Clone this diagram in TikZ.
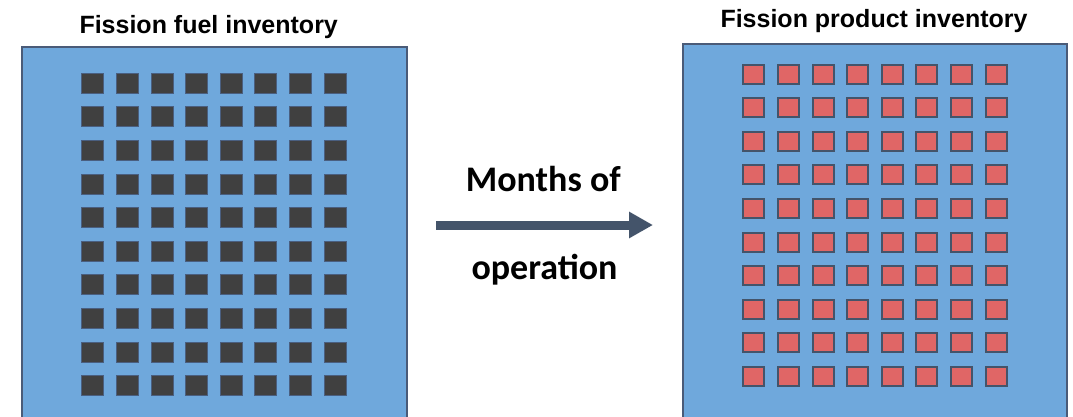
\documentclass[tikz,border=0pt]{standalone}
\usepackage{fontspec}
\setmainfont{Liberation Sans}
\newfontfamily\calib{Carlito}
\usetikzlibrary{arrows.meta}
\definecolor{boxfill}{HTML}{6FA8DC}
\definecolor{boxline}{HTML}{4A5B78}
\definecolor{fuelc}{HTML}{404040}
\definecolor{fuelline}{HTML}{4A5F80}
\definecolor{prodc}{HTML}{E06666}
\definecolor{slate}{HTML}{44546A}
\begin{document}
\begin{tikzpicture}[x=1pt,y=-1pt,
  panel/.style={draw=boxline, fill=boxfill, line width=2pt, anchor=north west, inner sep=0pt, outer sep=0pt},
  fuelsq/.style={draw=fuelline, fill=fuelc, line width=1pt, minimum width=22pt, minimum height=20pt, inner sep=0pt, outer sep=0pt},
  prodsq/.style={draw=slate, fill=prodc, line width=2pt, minimum width=21pt, minimum height=19pt, inner sep=0pt, outer sep=0pt},
  titletext/.style={font=\bfseries\fontsize{25}{30}\selectfont, anchor=base, inner sep=0pt},
  midtext/.style={font=\calib\bfseries\fontsize{36}{42}\selectfont, anchor=base, inner sep=0pt},
  flow/.style={draw=slate, line width=9pt, -{Triangle[length=24pt,width=25pt]}}
]
\useasboundingbox (0,0) rectangle (1073,416);
\node[panel, minimum width=385pt, minimum height=390pt] (fuelbox) at (22,47) {};
\node[panel, minimum width=384pt, minimum height=390pt] (prodbox) at (683,44) {};
\foreach \i in {0,...,7}{
  \foreach \j in {0,...,9}{
    \node[fuelsq] (f-\i-\j) at ({92.9+\i*34.6},{83.3+\j*33.6}) {};
    \node[prodsq] (p-\i-\j) at ({753.9+\i*34.6},{74+\j*33.6}) {};
  }
}
\node[titletext] (t1) at (208.7,33) {Fission fuel inventory};
\node[titletext] (t2) at (874,27) {Fission product inventory};
\node[midtext] (m1) at (543.3,191.7) {Months of};
\node[midtext] (m2) at (544.5,279) {operation};
\coordinate (a1) at (436,225);
\coordinate (a2) at (653,225);
\draw[flow] (a1) -- (a2);
\end{tikzpicture}
\end{document}
